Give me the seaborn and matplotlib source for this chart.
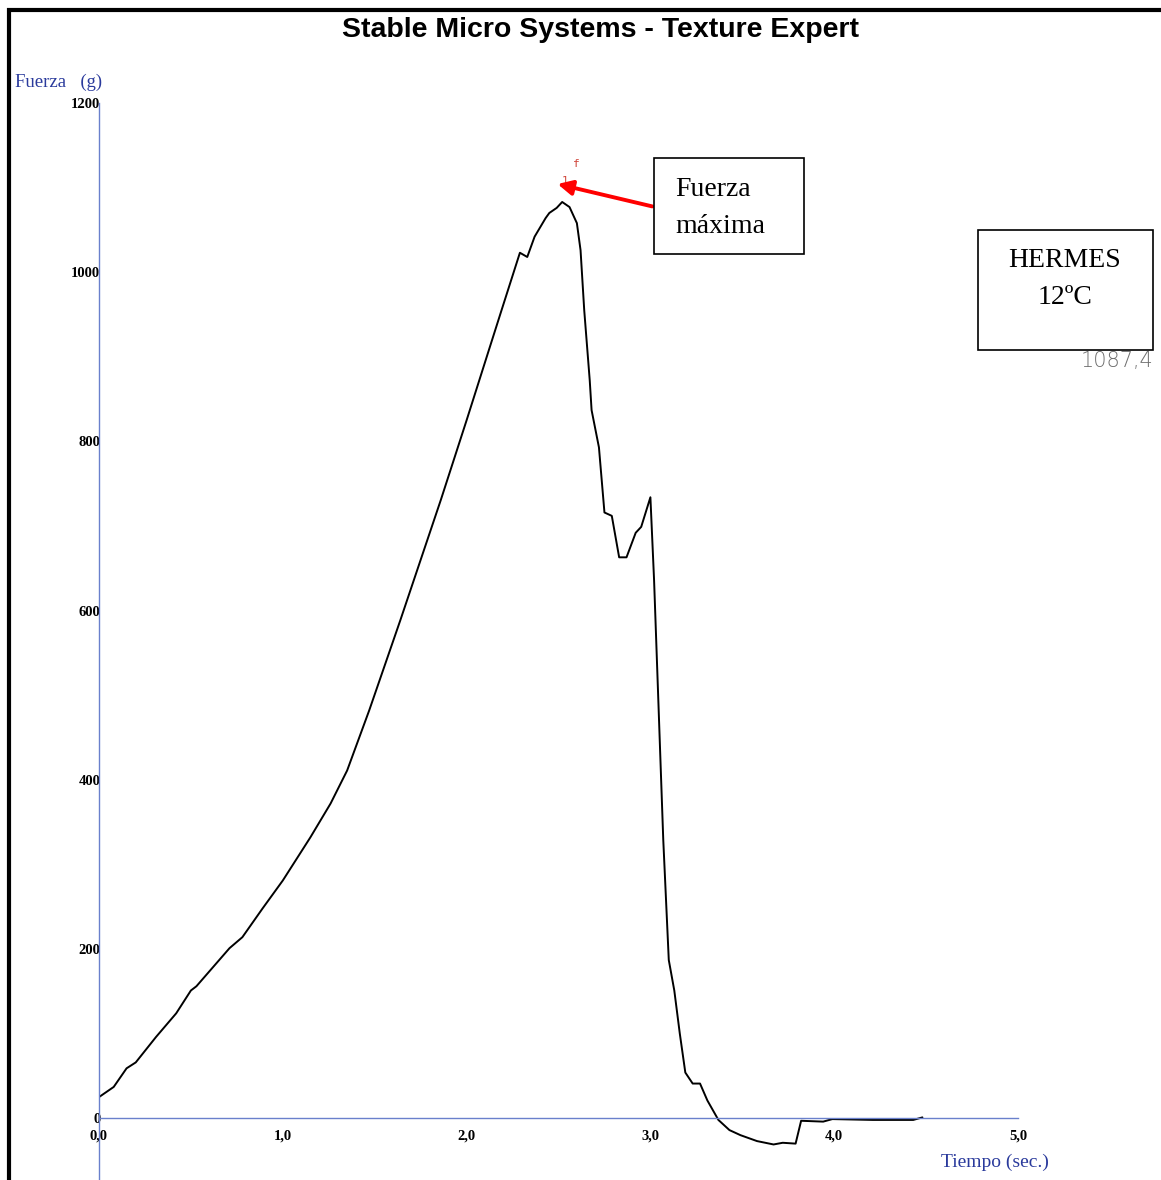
import matplotlib
matplotlib.use("Agg")
import matplotlib.pyplot as plt
from matplotlib.patches import Rectangle
from matplotlib.lines import Line2D
import seaborn as sns
import pandas as pd

# curva fuerza-tiempo
tiempo = [0.00, 0.08, 0.15, 0.20, 0.31, 0.42, 0.50, 0.53, 0.63, 0.71, 0.78, 0.89,
          1.00, 1.15, 1.26, 1.35, 1.47, 1.64, 1.75, 1.86, 2.00, 2.13, 2.19, 2.29, 2.33,
          2.37, 2.43, 2.45, 2.49, 2.52, 2.56, 2.60, 2.62, 2.64, 2.67, 2.68, 2.72,
          2.75, 2.79, 2.83, 2.87, 2.92, 2.95, 3.00, 3.02, 3.07, 3.10, 3.13, 3.16,
          3.19, 3.23, 3.27, 3.31, 3.37, 3.43, 3.49, 3.58, 3.67, 3.72, 3.79, 3.82,
          3.94, 3.99, 4.21, 4.43, 4.48]
fuerza = [25, 37, 59, 66, 96, 124, 151, 156, 181, 201, 214, 248,
          281, 332, 372, 411, 482, 589, 660, 731, 825, 914, 955, 1023, 1018,
          1042, 1064, 1070, 1076, 1083, 1077, 1058, 1026, 955, 872, 837, 793,
          716, 712, 663, 663, 692, 699, 734, 636, 329, 187, 151, 100,
          54, 41, 41, 21, -2, -14, -20, -27, -31, -29, -30, -3,
          -4, -1, -2, -2, 1]

xticks = [0, 1, 2, 3, 4, 5]
xlabels = ["0,0", "1,0", "2,0", "3,0", "4,0", "5,0"]
yticks = [0, 200, 400, 600, 800, 1000, 1200]

df = pd.DataFrame({"Tiempo": tiempo, "Fuerza": fuerza})

sns.set_style("white")
plt.rcParams["font.family"] = ["Liberation Serif", "DejaVu Serif"]
plt.rcParams["text.color"] = "black"
plt.rcParams["xtick.labelcolor"] = "black"
plt.rcParams["ytick.labelcolor"] = "black"

W, H = 1161, 1180
azul = "#6a80cc"
azul_txt = "#2a3a9c"

fig = plt.figure(figsize=(W / 100, H / 100), dpi=100)
ax = fig.add_axes([99 / W, 0, (1018 - 99) / W, (1180 - 103) / H])

sns.lineplot(data=df, x="Tiempo", y="Fuerza", ax=ax, color="black", lw=1.4)

ax.set_xlim(0, 5)
ax.set_ylim(-73, 1200)
ax.set_xlabel("")
ax.set_ylabel("")
ax.spines["top"].set_visible(False)
ax.spines["right"].set_visible(False)
ax.spines["bottom"].set_position(("data", 0))
for s in ["left", "bottom"]:
    ax.spines[s].set_color(azul)
    ax.spines[s].set_linewidth(1.0)

ax.set_xticks(xticks)
ax.set_xticklabels(xlabels)
ax.set_yticks(yticks)
ax.set_yticklabels([str(v) for v in yticks])
ax.tick_params(axis="x", direction="in", length=5, color=azul, pad=8, labelsize=10.5)
ax.tick_params(axis="y", direction="in", length=3, color=azul, pad=-1, labelsize=10.5)
for lab in ax.get_xticklabels() + ax.get_yticklabels():
    lab.set_fontweight("bold")

# titulo y ejes
fig.text(600 / W, 1 - 30 / H, "Stable Micro Systems - Texture Expert",
         ha="center", va="center", fontsize=20.5, fontweight="bold",
         family=["Liberation Sans", "DejaVu Sans"])
fig.text(15 / W, 1 - 82 / H, "Fuerza   (g)", ha="left", va="center",
         fontsize=13.5, color=azul_txt)
fig.text(995 / W, 1 - 1162 / H, "Tiempo (sec.)", ha="center", va="center",
         fontsize=14, color=azul_txt)

# marco
fig.add_artist(Line2D([7 / W, 1], [1 - 9.5 / H, 1 - 9.5 / H],
                      transform=fig.transFigure, color="black", lw=3,
                      solid_capstyle="butt"))
fig.add_artist(Line2D([8.5 / W, 8.5 / W], [0, 1 - 8 / H],
                      transform=fig.transFigure, color="black", lw=3,
                      solid_capstyle="butt"))

# marca del pico
ax.text(2.535, 1108, "1", color="#d0453a", fontsize=8,
        family=["DejaVu Sans Mono"], ha="center", va="center")
ax.text(2.595, 1128, "f", color="#d0453a", fontsize=8,
        family=["DejaVu Sans Mono"], ha="center", va="center")

# cajas de texto
fig.add_artist(Rectangle((654 / W, 1 - 254 / H), 150 / W, 96 / H,
                         transform=fig.transFigure, fill=True, fc="white",
                         ec="black", lw=1.2))
fig.text(675 / W, 1 - 208 / H, "Fuerza\nmáxima", ha="left", va="center",
         fontsize=20, linespacing=1.6)
fig.add_artist(Rectangle((978 / W, 1 - 350 / H), 175 / W, 120 / H,
                         transform=fig.transFigure, fill=True, fc="white",
                         ec="black", lw=1.2))
fig.text(1065 / W, 1 - 279 / H, "HERMES\n12ºC", ha="center", va="center",
         fontsize=20, linespacing=1.6)
fig.text(1117 / W, 1 - 361 / H, "1087,4", ha="center", va="center",
         fontsize=15, color="#6e6e6e", family=["DejaVu Sans"],
         fontweight="light")

ax.annotate("", xy=(2.48, 1105), xytext=(3.025, 1077),
            arrowprops=dict(arrowstyle="-|>", color="red", lw=2.8,
                            mutation_scale=22))

fig.savefig("out.png", dpi=100)
